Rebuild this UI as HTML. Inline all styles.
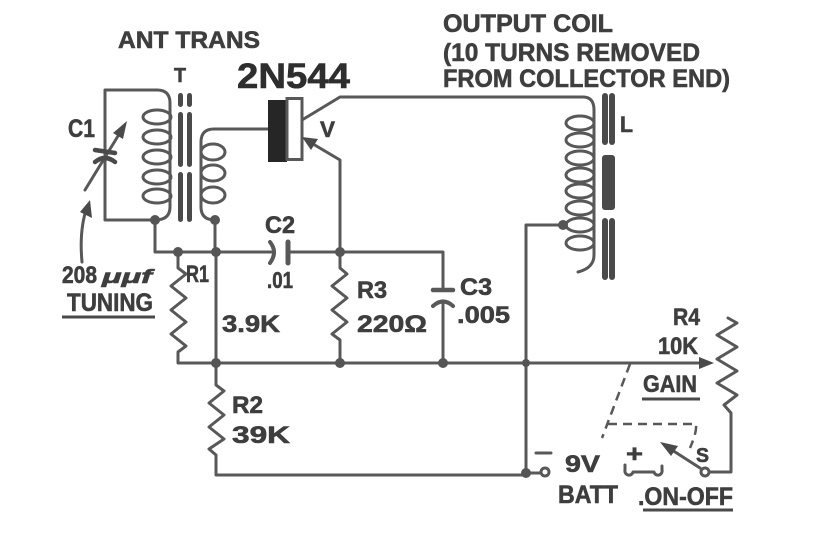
<!DOCTYPE html>
<html><head><meta charset="utf-8"><style>
html,body{margin:0;padding:0;background:#fff;}
svg{display:block;}
text{font-family:"Liberation Sans",sans-serif;font-weight:bold;fill:#3e3e3e;stroke:#3e3e3e;stroke-width:0.6;}
</style></head><body>
<svg width="821" height="545" viewBox="0 0 821 545" xmlns="http://www.w3.org/2000/svg">
<rect width="821" height="545" fill="#fff"/>
<g fill="none" stroke="#585858" stroke-width="3" stroke-linejoin="round" stroke-linecap="round">
  <path d="M155,220 H105 V90 H157 Q170,90 170,103 V207 Q170,220 155,220"/>
  <ellipse cx="157" cy="117" rx="14" ry="7"/>
  <ellipse cx="157" cy="137" rx="14" ry="7"/>
  <ellipse cx="157" cy="157" rx="14" ry="7"/>
  <ellipse cx="157" cy="177" rx="14" ry="7"/>
  <ellipse cx="157" cy="196" rx="14" ry="7"/>
  <path d="M268,129 H214 Q201,129 201,142 V207 Q201,220 215,220"/>
  <ellipse cx="213" cy="152" rx="12" ry="8"/>
  <ellipse cx="213" cy="173" rx="12" ry="8"/>
  <ellipse cx="213" cy="195" rx="12" ry="8"/>
  <path d="M155,220 V252 H271"/>
  <path d="M215,220 V252"/>
  <path d="M270,242 Q278,252 270,263" stroke-width="4"/>
  <path d="M288,242 V263" stroke-width="5"/>
  <path d="M289,252 H443 V290"/>
  <path d="M433,290 H453" stroke-width="4.5"/>
  <path d="M433,306 Q443,297 453,306" stroke-width="4"/>
  <path d="M443,302 V363"/>
  <path d="M302,120 L340,97 H583 Q594,97 594,110"/>
  <path d="M308,141 L340,160 V252"/>
  <path d="M340,252 V268 L347,274 L332,286 L347,298 L332,310 L347,322 L332,334 L340,340 V363"/>
  <path d="M178,252 V268 L186,274 L171,286 L186,298 L171,310 L186,322 L171,334 L186,346 L178,352 V363 H700"/>
  <path d="M216,252 V385 L224,391 L209,403 L224,415 L209,427 L224,439 L209,449 L216,455 V475 H526"/>
  <path d="M594,110 V255 Q594,268 578,272"/>
  <ellipse cx="580" cy="123" rx="14" ry="7"/>
  <ellipse cx="580" cy="140" rx="14" ry="7"/>
  <ellipse cx="580" cy="158" rx="14" ry="7"/>
  <ellipse cx="580" cy="175" rx="14" ry="7"/>
  <ellipse cx="580" cy="191" rx="14" ry="7"/>
  <ellipse cx="580" cy="208" rx="14" ry="7"/>
  <ellipse cx="580" cy="225" rx="14" ry="7"/>
  <ellipse cx="580" cy="243" rx="14" ry="7"/>
  <path d="M563,225 H526 V473 H541"/>
  <circle cx="545" cy="472" r="4"/>
  <path d="M536,453 H551"/>
  <path d="M625,465 V470 A4,4 0 0 0 633,472 H654 A4,4 0 0 0 662,470 V466"/>
  <circle cx="705" cy="472" r="4"/>
  <path d="M700,468 L672,450"/>
  <path d="M709,472 H731 V413 L724,405 L737,395 L717,383 L737,371 L717,359 L737,347 L717,335 L737,323 L728,318"/>
  <path d="M85,190 L118,136"/>
  <path d="M82,262 Q79,230 87,207"/>
</g>
<g stroke="#4a4a4a" stroke-width="4.5" fill="none" stroke-linecap="round">
  <path d="M95,150 L115,153"/>
  <path d="M95,162 Q105,154 115,162"/>
</g>
<g stroke="#585858" stroke-width="2.5" fill="none" stroke-dasharray="9,6">
  <path d="M630,364 L602,438"/>
  <path d="M608,424 H696 Q697,432 690,448"/>
</g>
<g fill="#4a4a4a">
  <rect x="178" y="93" width="5" height="14" rx="2.5"/>
  <rect x="187" y="93" width="5" height="14" rx="2.5"/>
  <rect x="178" y="112" width="5" height="55" rx="2.5"/>
  <rect x="187" y="112" width="5" height="55" rx="2.5"/>
  <rect x="178" y="172" width="5" height="50" rx="2.5"/>
  <rect x="187" y="172" width="5" height="50" rx="2.5"/>
  <rect x="602" y="93" width="6" height="52" rx="3"/>
  <rect x="609" y="93" width="6" height="52" rx="3"/>
  <rect x="602" y="155" width="13" height="55" rx="3"/>
  <rect x="602" y="218" width="6" height="62" rx="3"/>
  <rect x="609" y="218" width="6" height="62" rx="3"/>
</g>
<rect x="268" y="100" width="19" height="62" fill="#262626"/>
<rect x="287" y="98.5" width="15" height="61" fill="#fff" stroke="#585858" stroke-width="3"/>
<path d="M268,129 H258" stroke="#585858" stroke-width="3"/>
<g fill="#4a4a4a">
  <polygon points="302,137 318,139 311,150"/>
  <polygon points="127,121 123,139 113,133"/>
  <polygon points="90,200 92,218 80,212"/>
  <polygon points="660,442 678,446 671,456"/>
  <polygon points="714,363 699,357 699,369"/>
</g>
<g fill="#555">
  <circle cx="155" cy="220" r="5"/>
  <circle cx="215" cy="220" r="5"/>
  <circle cx="178" cy="252" r="5"/>
  <circle cx="216" cy="252" r="5"/>
  <circle cx="340" cy="252" r="5"/>
  <circle cx="216" cy="363" r="5"/>
  <circle cx="340" cy="363" r="5"/>
  <circle cx="443" cy="363" r="5"/>
  <circle cx="526" cy="363" r="4"/>
  <circle cx="526" cy="473" r="5"/>
  <circle cx="563" cy="225" r="5"/>
</g>
<g stroke="#4a4a4a" stroke-width="3">
  <path d="M62,317 H155"/>
  <path d="M642,399 H700"/>
  <path d="M643,510 H733"/>
</g>
<text x="118" y="48" font-size="24" textLength="142" lengthAdjust="spacingAndGlyphs">ANT TRANS</text>
<text x="174" y="82" font-size="20" textLength="12" lengthAdjust="spacingAndGlyphs">T</text>
<text x="237" y="88" font-size="35" textLength="113" lengthAdjust="spacingAndGlyphs" style="fill:#2e2e2e;stroke:#2e2e2e">2N544</text>
<text x="443" y="32" font-size="25" textLength="170" lengthAdjust="spacingAndGlyphs">OUTPUT COIL</text>
<text x="443" y="61" font-size="25" textLength="257" lengthAdjust="spacingAndGlyphs">(10 TURNS REMOVED</text>
<text x="443" y="87" font-size="25" textLength="287" lengthAdjust="spacingAndGlyphs">FROM COLLECTOR END)</text>
<text x="68" y="137" font-size="25" textLength="27" lengthAdjust="spacingAndGlyphs">C1</text>
<text x="320" y="137" font-size="22" textLength="15" lengthAdjust="spacingAndGlyphs">V</text>
<text x="620" y="132" font-size="22" textLength="13" lengthAdjust="spacingAndGlyphs">L</text>
<text x="265" y="233" font-size="24" textLength="30" lengthAdjust="spacingAndGlyphs">C2</text>
<text x="267" y="288" font-size="23" textLength="26" lengthAdjust="spacingAndGlyphs">.01</text>
<text x="62" y="283" font-size="24" textLength="35" lengthAdjust="spacingAndGlyphs">208</text>
<text x="102" y="283" font-size="19" font-style="italic" textLength="50" lengthAdjust="spacingAndGlyphs">μμf</text>
<text x="67" y="311" font-size="25" textLength="86" lengthAdjust="spacingAndGlyphs">TUNING</text>
<text x="186" y="282" font-size="24" textLength="23" lengthAdjust="spacingAndGlyphs">R1</text>
<text x="222" y="332" font-size="24" textLength="58" lengthAdjust="spacingAndGlyphs">3.9K</text>
<text x="357" y="298" font-size="24" textLength="30" lengthAdjust="spacingAndGlyphs">R3</text>
<text x="357" y="332" font-size="24" textLength="70" lengthAdjust="spacingAndGlyphs">220Ω</text>
<text x="460" y="295" font-size="24" textLength="32" lengthAdjust="spacingAndGlyphs">C3</text>
<text x="457" y="323" font-size="24" textLength="53" lengthAdjust="spacingAndGlyphs">.005</text>
<text x="232" y="413" font-size="24" textLength="31" lengthAdjust="spacingAndGlyphs">R2</text>
<text x="232" y="443" font-size="24" textLength="58" lengthAdjust="spacingAndGlyphs">39K</text>
<text x="673" y="325" font-size="24" textLength="27" lengthAdjust="spacingAndGlyphs">R4</text>
<text x="658" y="354" font-size="24" textLength="40" lengthAdjust="spacingAndGlyphs">10K</text>
<text x="643" y="392" font-size="24" textLength="54" lengthAdjust="spacingAndGlyphs">GAIN</text>
<text x="565" y="472" font-size="24" textLength="35" lengthAdjust="spacingAndGlyphs">9V</text>
<text x="626" y="462" font-size="24" textLength="17" lengthAdjust="spacingAndGlyphs">+</text>
<text x="696" y="462" font-size="20" textLength="13" lengthAdjust="spacingAndGlyphs">S</text>
<text x="558" y="503" font-size="25" textLength="60" lengthAdjust="spacingAndGlyphs">BATT</text>
<text x="638" y="505" font-size="25" textLength="95" lengthAdjust="spacingAndGlyphs">.ON-OFF</text>
</svg>
</body></html>
